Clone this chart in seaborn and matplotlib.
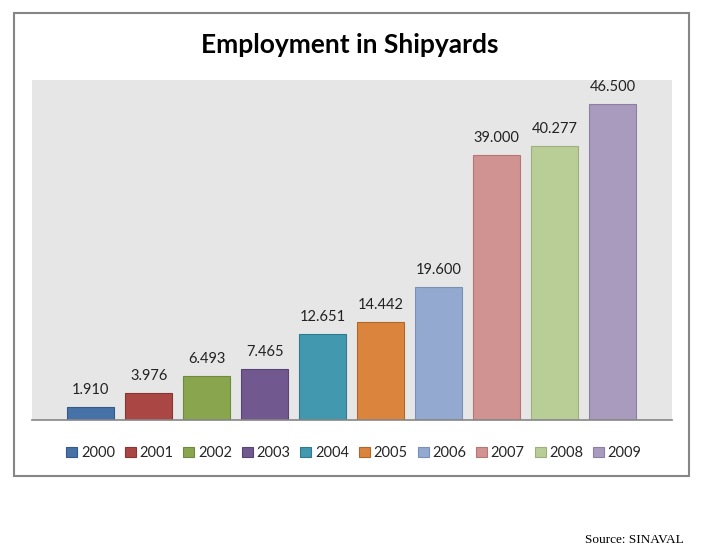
import matplotlib
matplotlib.use("Agg")
import matplotlib.pyplot as plt
import matplotlib.patches as mpatches
import seaborn as sns
import pandas as pd
import numpy as np

years = ["2000", "2001", "2002", "2003", "2004", "2005", "2006", "2007", "2008", "2009"]
employment = [1910, 3976, 6493, 7465, 12651, 14442, 19600, 39000, 40277, 46500]
value_labels = ["1.910", "3.976", "6.493", "7.465", "12.651", "14.442", "19.600", "39.000", "40.277", "46.500"]
colors = ["#4672A8", "#AA4643", "#89A54E", "#71588F", "#4198AF", "#DB843D",
          "#93A9CF", "#D19392", "#B9CD96", "#A99BBD"]
edges = ["#345A88", "#8A3533", "#6E8A3C", "#574473", "#2F7A8E", "#B06828",
         "#7A90B8", "#B47775", "#9DB07C", "#8D7FA3"]

df = pd.DataFrame({"year": years, "employment": employment})

sns.set_style("white")
plt.rcParams["font.family"] = ["Lato", "DejaVu Sans"]

fig = plt.figure(figsize=(7.01, 5.52), dpi=100)
ax = fig.add_axes([32/701, 1-420/552, 640/701, 340/552])

sns.barplot(data=df, x="year", y="employment", hue="year", palette=colors,
            dodge=False, width=0.81, legend=False, ax=ax, saturation=1)

for p, ec in zip(ax.patches, edges):
    p.set_edgecolor(ec)
    p.set_linewidth(0.8)

for i, (v, lab) in enumerate(zip(employment, value_labels)):
    ax.text(i, v + 1500, lab, ha="center", va="bottom", fontsize=10.5, color="#222222")

ax.set_facecolor("#E6E6E6")
ax.set_xlim(-1.01, 10.02)
ax.set_ylim(0, 50000)
ax.set_xticks([])
ax.set_yticks([])
ax.set_xlabel("")
ax.set_ylabel("")
for s in ["top", "right", "left"]:
    ax.spines[s].set_visible(False)
ax.spines["bottom"].set_color("#868686")
ax.spines["bottom"].set_linewidth(1.2)

handles = [mpatches.Patch(facecolor=c, edgecolor=e, linewidth=0.8) for c, e in zip(colors, edges)]
fig.legend(handles, years, ncol=10, loc="center", bbox_to_anchor=(354/701, 1-453/552),
           frameon=False, fontsize=10.5, handlelength=0.75, handleheight=0.75,
           handletextpad=0.25, columnspacing=0.68, borderpad=0)

fig.text(350/701, 1-45/552, "Employment in Shipyards", ha="center", va="center",
         fontsize=19, fontweight="bold", color="#000000")

border = mpatches.Rectangle((14/701, 1-476/552), 675/701, 463/552, transform=fig.transFigure,
                            fill=False, edgecolor="#868686", linewidth=1.5)
fig.patches.append(border)

fig.text(684/701, 1-540/552, "Source: SINAVAL", ha="right", va="center",
         fontsize=9.5, family="Liberation Serif", color="#000000")

fig.savefig("out.png", dpi=100)
